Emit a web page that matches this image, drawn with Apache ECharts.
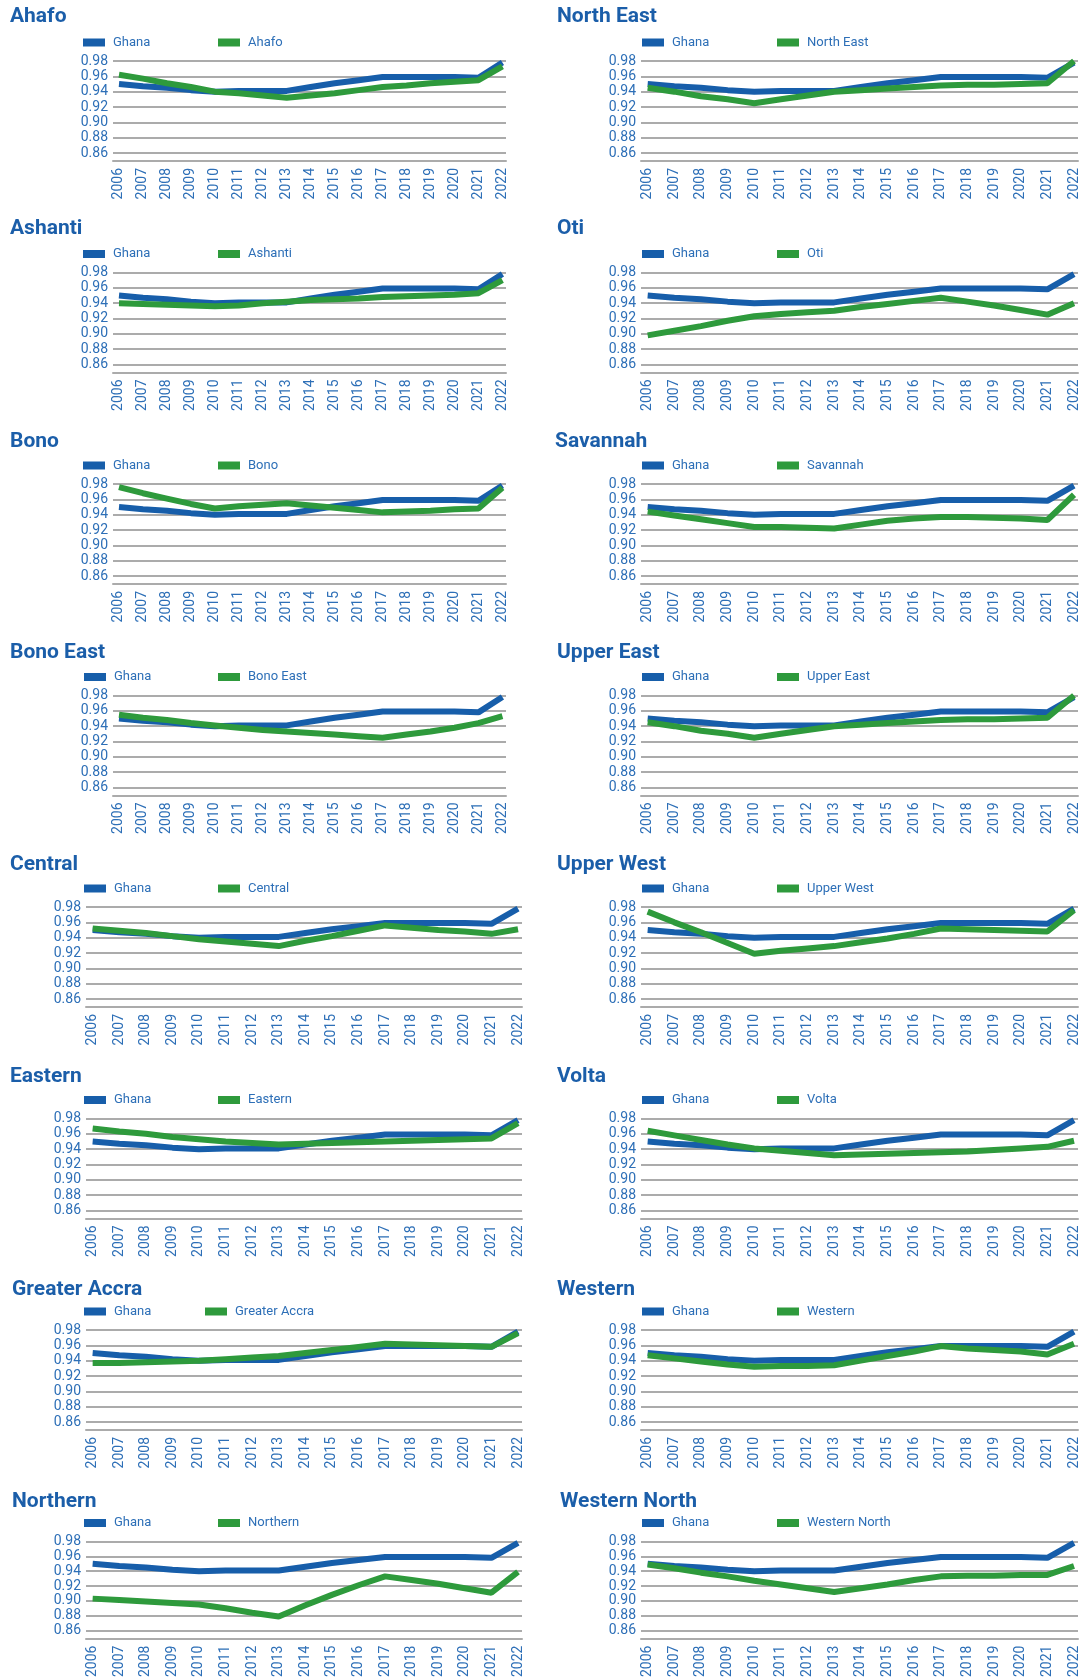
<!DOCTYPE html>
<html><head><meta charset="utf-8">
<script src="https://cdn.jsdelivr.net/npm/echarts@6/dist/echarts.min.js"></script>
<style>html,body{margin:0;padding:0;background:#fff}#c{width:1081px;height:1680px}</style>
</head><body><div id="c"></div>
<script>
// ---------- data ----------
const years = [2006,2007,2008,2009,2010,2011,2012,2013,2014,2015,2016,2017,2018,2019,2020,2021,2022];
const yMin = 0.86, yMax = 0.98, yStep = 0.02;
const ghana        = [0.950,0.947,0.945,0.942,0.940,0.941,0.941,0.941,0.946,0.951,0.955,0.959,0.959,0.959,0.959,0.958,0.978];
const ahafo        = [0.962,0.957,0.951,0.946,0.940,0.938,0.935,0.932,0.935,0.938,0.942,0.946,0.948,0.951,0.953,0.955,0.973];
const northEast    = [0.945,0.940,0.934,0.930,0.925,0.930,0.935,0.940,0.942,0.944,0.946,0.948,0.949,0.949,0.950,0.951,0.980];
const ashanti      = [0.940,0.939,0.938,0.937,0.936,0.937,0.940,0.942,0.944,0.945,0.946,0.948,0.949,0.950,0.951,0.953,0.970];
const oti          = [0.898,0.904,0.910,0.917,0.923,0.926,0.928,0.930,0.935,0.939,0.943,0.947,0.942,0.937,0.931,0.925,0.940];
const bono         = [0.976,0.968,0.961,0.954,0.948,0.951,0.953,0.955,0.952,0.949,0.946,0.943,0.944,0.945,0.947,0.948,0.975];
const savannah     = [0.944,0.939,0.934,0.929,0.924,0.924,0.923,0.922,0.927,0.932,0.935,0.937,0.937,0.936,0.935,0.933,0.966];
const bonoEast     = [0.955,0.951,0.948,0.944,0.941,0.938,0.935,0.933,0.931,0.929,0.927,0.925,0.929,0.933,0.938,0.944,0.953];
const upperEast    = [0.945,0.940,0.934,0.930,0.925,0.930,0.935,0.940,0.942,0.944,0.946,0.948,0.949,0.949,0.950,0.951,0.980];
const central      = [0.952,0.949,0.946,0.942,0.938,0.935,0.932,0.929,0.936,0.942,0.949,0.956,0.953,0.950,0.948,0.945,0.951];
const upperWest    = [0.974,0.960,0.947,0.933,0.919,0.923,0.926,0.929,0.934,0.939,0.945,0.952,0.951,0.950,0.949,0.948,0.976];
const eastern      = [0.967,0.963,0.960,0.956,0.953,0.950,0.948,0.946,0.947,0.948,0.949,0.950,0.951,0.952,0.953,0.954,0.974];
const volta        = [0.964,0.958,0.952,0.946,0.941,0.938,0.935,0.932,0.933,0.934,0.935,0.936,0.937,0.939,0.941,0.943,0.951];
const greaterAccra = [0.937,0.937,0.938,0.939,0.940,0.942,0.944,0.946,0.950,0.954,0.958,0.962,0.961,0.960,0.959,0.958,0.976];
const western      = [0.947,0.943,0.939,0.935,0.932,0.933,0.933,0.934,0.940,0.946,0.952,0.959,0.956,0.954,0.952,0.948,0.962];
const northern     = [0.903,0.901,0.899,0.897,0.895,0.890,0.884,0.879,0.894,0.908,0.921,0.933,0.928,0.923,0.917,0.911,0.939];
const westernNorth = [0.949,0.944,0.938,0.933,0.927,0.922,0.917,0.912,0.917,0.922,0.928,0.933,0.934,0.934,0.935,0.935,0.947];

const regionNames = ['Ahafo','North East','Ashanti','Oti','Bono','Savannah','Bono East','Upper East',
                     'Central','Upper West','Eastern','Volta','Greater Accra','Western','Northern','Western North'];
const regionValues = [ahafo,northEast,ashanti,oti,bono,savannah,bonoEast,upperEast,
                      central,upperWest,eastern,volta,greaterAccra,western,northern,westernNorth];

// ---------- layout / style ----------
const BLUE = '#175eaa', GREEN = '#2e9a3c', TXT = '#2d6fb7', TITLE = '#1b5ea9', GRID = '#ababab';
const FONT = 'Roboto';
const rowTop   = [61,272.5,484,695.5,907,1118.5,1330,1541.5];
const titleY   = [17,229,442,653,865,1077,1290,1502];
const plotH = 92;

const option = {
  animation:false, backgroundColor:'#fff',
  title:[], legend:[], grid:[], xAxis:[], yAxis:[], series:[]
};

regionNames.forEach((name,i)=>{
  const row = Math.floor(i/2), col = i%2;
  const top = rowTop[row];
  let gl, gw;
  if (col===1) { gl = 641; gw = 439; }
  else if (row<4) { gl = 113; gw = 393; }
  else { gl = 86; gw = 436; }
  const titleLeft = col===0 ? (row>=6 ? 12 : 10) : (name==='Savannah' ? 555 : (name==='Western North' ? 560 : 557));
  option.title.push({
    text:name, left:titleLeft, top:titleY[row]-12, padding:0,
    textStyle:{fontFamily:FONT, fontWeight:'bold', fontSize:21, color:TITLE, lineHeight:24}
  });
  const legY = top - 18.5 - 7;
  const gLeft = col===0 ? (row>=3 ? 84 : 83) : 642;
  const rLeft = col===0 ? (name==='Greater Accra' ? 205 : 218) : 777;
  const legText = {fontFamily:FONT, fontSize:13, color:TXT, lineHeight:14, padding:[0,0,0,3]};
  option.legend.push({data:['Ghana'], left:gLeft, top:legY, padding:0, icon:'rect', itemWidth:22, itemHeight:8, selectedMode:false, textStyle:legText});
  option.legend.push({data:[name], left:rLeft, top:legY, padding:0, icon:'rect', itemWidth:22, itemHeight:8, selectedMode:false, textStyle:legText});
  option.grid.push({left:gl, top:top, width:gw, height:plotH, containLabel:false});
  option.xAxis.push({
    type:'value', gridIndex:i, min:2005.75, max:2022.15, offset:8,
    axisLine:{show:true, lineStyle:{color:GRID, width:2}},
    axisTick:{show:false}, splitLine:{show:false},
    axisLabel:{customValues:years, rotate:90, margin:7, fontFamily:FONT, fontSize:14, color:TXT, formatter:v=>String(v)}
  });
  option.yAxis.push({
    type:'value', gridIndex:i, min:yMin, max:yMax, interval:yStep,
    axisLine:{show:false}, axisTick:{show:false},
    splitLine:{show:true, lineStyle:{color:GRID, width:2}},
    axisLabel:{margin:5, fontFamily:FONT, fontSize:14, color:TXT, formatter:v=>v.toFixed(2)}
  });
  option.series.push({
    type:'line', name:'Ghana', xAxisIndex:i, yAxisIndex:i, clip:false,
    data:years.map((y,k)=>[y, ghana[k]]), symbol:'none', showSymbol:false,
    lineStyle:{width:6, color:BLUE}, itemStyle:{color:BLUE}, z:2
  });
  option.series.push({
    type:'line', name:name, xAxisIndex:i, yAxisIndex:i, clip:false,
    data:years.map((y,k)=>[y, regionValues[i][k]]), symbol:'none', showSymbol:false,
    lineStyle:{width:6, color:GREEN}, itemStyle:{color:GREEN}, z:3
  });
});

const chart = echarts.init(document.getElementById('c'), null, {renderer:'canvas'});
chart.setOption(option);
</script>
</body></html>
